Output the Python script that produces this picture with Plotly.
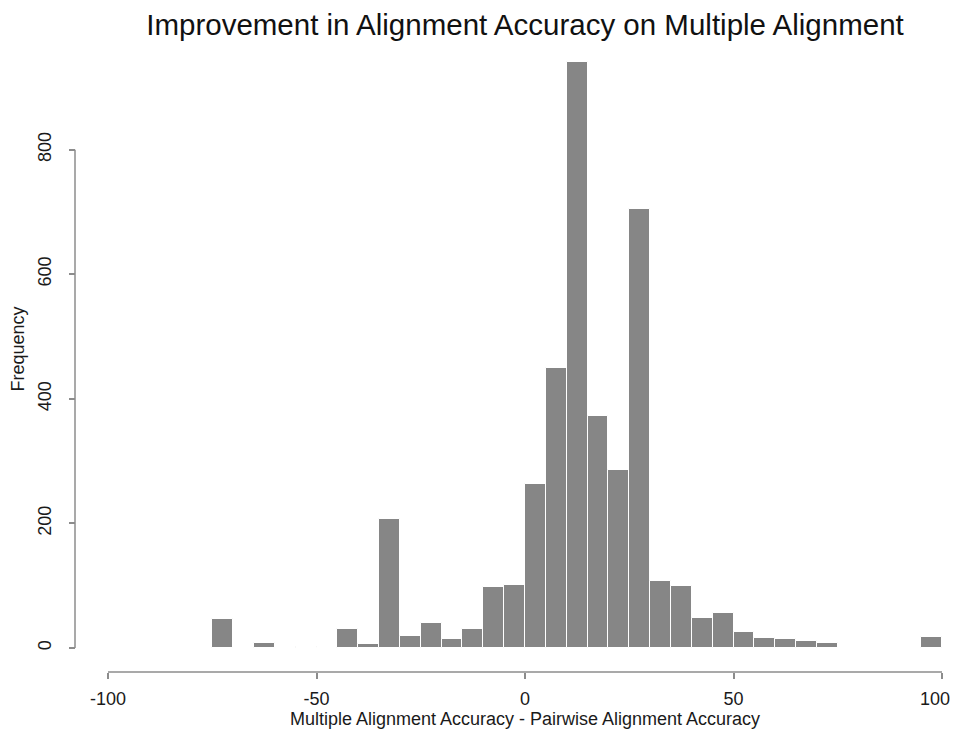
import plotly.graph_objects as go

# histogram bins (left edges, width 5) and counts
bin_left = [-75, -70, -65, -60, -55, -50, -45, -40, -35, -30, -25, -20, -15, -10, -5,
            0, 5, 10, 15, 20, 25, 30, 35, 40, 45, 50, 55, 60, 65, 70,
            75, 80, 85, 90, 95]
counts = [46, 0, 8, 0, 2, 0, 30, 6, 207, 19, 40, 14, 30, 98, 101,
          264, 450, 940, 372, 285, 705, 108, 99, 48, 56, 26, 16, 14, 11, 8,
          0, 0, 0, 0, 17]
bin_width = 5

x_ticks = [-100, -50, 0, 50]
x_labels = ["-100", "-50", "0", "50"]
# last tick drawn on an overlay axis so its label can be nudged off the right edge
x_last_tick = [100]
x_last_label = ["100"]
y_ticks = [0, 200, 400, 600, 800]

FONT = "Liberation Sans, Helvetica, Arial, sans-serif"
AXIS_GREY = "#8c8c8c"

# the page body adds an 8px margin, keep the figure inside the window
W, H = 953, 721

fig = go.Figure()
fig.add_trace(go.Bar(
    x=bin_left, y=counts, width=bin_width, offset=0,
    marker=dict(color="#868686", line=dict(color="white", width=1)),
    showlegend=False, hoverinfo="x+y",
))
# empty trace so the overlay x axis gets drawn
fig.add_trace(go.Scatter(x=[], y=[], xaxis="x2", yaxis="y", showlegend=False, hoverinfo="skip"))

# R-style axis lines that only span the tick range
fig.add_shape(type="line", xref="x", yref="paper", x0=x_ticks[0], x1=x_last_tick[0], y0=0, y1=0,
              line=dict(color=AXIS_GREY, width=1.5))
fig.add_shape(type="line", xref="paper", yref="y", x0=0, x1=0, y0=y_ticks[0], y1=y_ticks[-1],
              line=dict(color=AXIS_GREY, width=1.5))

x_common = dict(range=[-100, 100], domain=[33 / 867, 1], anchor="free", position=0,
                ticks="outside", ticklen=6, tickcolor=AXIS_GREY, tickwidth=1.5,
                automargin=False, ticklabeloverflow="allow", showgrid=False,
                zeroline=False, showline=False, ticklabelstandoff=4)

fig.update_layout(
    width=W, height=H,
    margin=dict(l=67, r=19, t=42, b=57, autoexpand=False),
    paper_bgcolor="white", plot_bgcolor="white",
    font=dict(family=FONT, size=18, color="#1a1a1a"),
    bargap=0,
    title=dict(text="Improvement in Alignment Accuracy on Multiple Alignment",
               font=dict(size=29.5, color="#111111"),
               x=517 / W, xanchor="center", xref="container",
               y=1 - 17 / H, yanchor="middle", yref="container"),
    xaxis=dict(**x_common, tickvals=x_ticks, ticktext=x_labels,
               title=dict(text="Multiple Alignment Accuracy - Pairwise Alignment Accuracy",
                          font=dict(size=18), standoff=7)),
    xaxis2=dict(**x_common, overlaying="x", tickvals=x_last_tick, ticktext=x_last_label,
                ticklabelshift=-7),
    yaxis=dict(range=[0, 960], domain=[24 / 622, 1], anchor="free", position=0,
               tickvals=y_ticks, ticks="outside", ticklen=6, automargin=False,
               tickcolor=AXIS_GREY, tickwidth=1.5,
               tickangle=-90, showgrid=False, zeroline=False, showline=False,
               ticklabelstandoff=11,
               title=dict(text="Frequency", font=dict(size=18), standoff=17)),
)

fig.write_html("out.html")
